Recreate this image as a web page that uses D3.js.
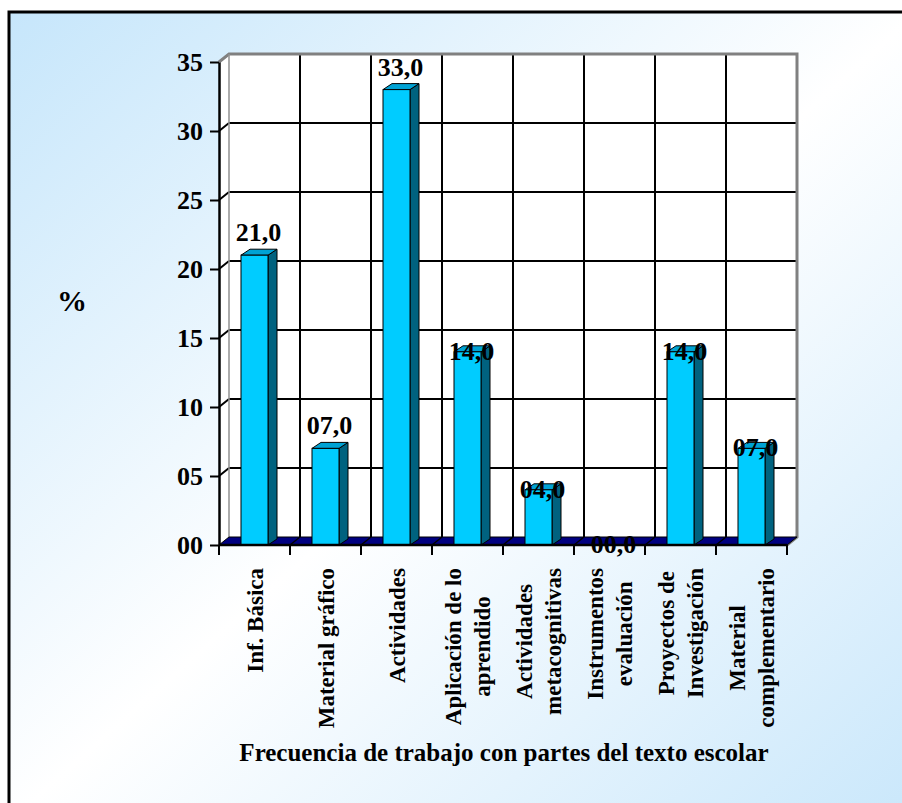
<!DOCTYPE html>
<html lang="es">
<head>
<meta charset="UTF-8">
<title>Frecuencia de trabajo con partes del texto escolar</title>
<script src="https://d3js.org/d3.v7.min.js"></script>
<style>
    body { margin: 0; background: #ffffff; }
    text { font-family: "Liberation Serif", "Times New Roman", serif; font-weight: bold; fill: #000; }
</style>
</head>
<body>
<svg id="svg" width="902" height="803"></svg>
<script>
    // data
    const categories = ["Inf. Básica", "Material gráfico", "Actividades", "Aplicación de lo aprendido",
        "Actividades metacognitivas", "Instrumentos evaluación", "Proyectos de Investigación", "Material complementario"];
    const categoryLines = [
        ["Inf. Básica"], ["Material gráfico"], ["Actividades"], ["Aplicación de lo", "aprendido"],
        ["Actividades", "metacognitivas"], ["Instrumentos", "evaluación"], ["Proyectos de", "Investigación"],
        ["Material", "complementario"]
    ];
    const values = [21, 7, 33, 14, 4, 0, 14, 7];
    // the first three value labels sit above their bar, the rest sit on the bar top
    const labelAbove = [true, true, true, false, false, false, false, false];
    const yTicks = [0, 5, 10, 15, 20, 25, 30, 35];
    const yLabel = "%";
    const xTitle = "Frecuencia de trabajo con partes del texto escolar";

    const svg = d3.select("#svg");

    // background gradient inside the frame
    const defs = svg.append("defs");
    const grad = defs.append("linearGradient")
        .attr("id", "bg")
        .attr("x1", 0).attr("y1", 0).attr("x2", 1).attr("y2", 1);
    grad.append("stop").attr("offset", "0%").attr("stop-color", "#c6e6fb");
    grad.append("stop").attr("offset", "50%").attr("stop-color", "#ffffff");
    grad.append("stop").attr("offset", "100%").attr("stop-color", "#c9e7fb");

    svg.append("rect")
        .attr("x", 9).attr("y", 12)
        .attr("width", 910).attr("height", 810)
        .attr("fill", "url(#bg)")
        .attr("stroke", "#000")
        .attr("stroke-width", 3);

    const pLeft = 219, pRight = 787, pBottom = 545, pTop = 62;
    const dx = 10, dy = -8;          // depth of the 3d walls
    const bdx = 9, bdy = -6;         // depth of the bars

    const x = d3.scaleBand().domain(categories).range([pLeft, pRight]);
    const y = d3.scaleLinear().domain([0, 35]).range([pBottom, pTop]);

    const pts = a => a.map(p => p.join(",")).join(" ");

    const chart = svg.append("g");

    // back wall and side wall
    chart.append("polygon")
        .attr("points", pts([[pLeft + dx, pBottom + dy], [pRight + dx, pBottom + dy], [pRight + dx, pTop + dy], [pLeft + dx, pTop + dy]]))
        .attr("fill", "#fff");
    chart.append("polygon")
        .attr("points", pts([[pLeft, pBottom], [pLeft + dx, pBottom + dy], [pLeft + dx, pTop + dy], [pLeft, pTop]]))
        .attr("fill", "#fff");

    // horizontal gridlines (back wall + side wall)
    const gridY = yTicks.filter(d => d > 0 && d < 35);
    chart.selectAll(".gh").data(gridY).enter().append("line")
        .attr("x1", pLeft + dx).attr("x2", pRight + dx)
        .attr("y1", d => y(d) + dy).attr("y2", d => y(d) + dy)
        .attr("stroke", "#000").attr("stroke-width", 2);
    chart.selectAll(".gs").data(gridY).enter().append("line")
        .attr("x1", pLeft).attr("x2", pLeft + dx)
        .attr("y1", d => y(d)).attr("y2", d => y(d) + dy)
        .attr("stroke", "#000").attr("stroke-width", 2);

    // vertical gridlines on the back wall
    const inner = categories.slice(1);
    chart.selectAll(".gv").data(inner).enter().append("line")
        .attr("x1", d => x(d) + dx).attr("x2", d => x(d) + dx)
        .attr("y1", y(0) + dy).attr("y2", pTop + dy)
        .attr("stroke", "#000").attr("stroke-width", 2);

    // wall edges
    chart.append("polyline")
        .attr("points", pts([[pLeft, pTop], [pLeft + dx, pTop + dy], [pRight + dx, pTop + dy], [pRight + dx, pBottom + dy], [pRight, pBottom]]))
        .attr("fill", "none").attr("stroke", "#808080").attr("stroke-width", 3);
    chart.append("line")
        .attr("x1", pLeft + dx).attr("x2", pLeft + dx)
        .attr("y1", pTop + dy).attr("y2", pBottom + dy)
        .attr("stroke", "#909090").attr("stroke-width", 1.5);

    // floor
    chart.append("polygon")
        .attr("points", pts([[pLeft, pBottom], [pRight, pBottom], [pRight + dx, pBottom + dy], [pLeft + dx, pBottom + dy]]))
        .attr("fill", "#000080")
        .attr("stroke", "#000").attr("stroke-width", 1);
    chart.selectAll(".gf").data(inner).enter().append("line")
        .attr("x1", d => x(d)).attr("x2", d => x(d) + dx)
        .attr("y1", pBottom).attr("y2", pBottom + dy)
        .attr("stroke", "#000").attr("stroke-width", 1.5);

    // bars
    const barW = 27;
    const bars = chart.selectAll(".bar").data(categories.map((c, i) => ({ c: c, v: values[i], i: i })).filter(d => d.v > 0))
        .enter().append("g");

    bars.append("polygon")
        .attr("points", d => {
            const xl = x(d.c) + x.bandwidth() / 2 - barW / 2, xr = xl + barW, yt = y(d.v);
            return pts([[xr, yt], [xr + bdx, yt + bdy], [xr + bdx, pBottom + bdy], [xr, pBottom]]);
        })
        .attr("fill", "#00627f").attr("stroke", "#000").attr("stroke-width", 1);
    bars.append("polygon")
        .attr("points", d => {
            const xl = x(d.c) + x.bandwidth() / 2 - barW / 2, xr = xl + barW, yt = y(d.v);
            return pts([[xl, yt], [xl + bdx, yt + bdy], [xr + bdx, yt + bdy], [xr, yt]]);
        })
        .attr("fill", "#00a2d4").attr("stroke", "#000").attr("stroke-width", 1);
    bars.append("rect")
        .attr("x", d => x(d.c) + x.bandwidth() / 2 - barW / 2)
        .attr("y", d => y(d.v))
        .attr("width", barW)
        .attr("height", d => pBottom - y(d.v))
        .attr("fill", "#00ccff").attr("stroke", "#000").attr("stroke-width", 1);

    // y axis
    const yAxis = svg.append("g")
        .attr("transform", `translate(${pLeft},0)`)
        .call(d3.axisLeft(y).tickValues(yTicks).tickFormat(d3.format("02d")).tickSize(9).tickSizeOuter(0).tickPadding(7));
    yAxis.select(".domain").attr("stroke", "#000").attr("stroke-width", 2.5);
    yAxis.selectAll(".tick line").attr("stroke", "#000").attr("stroke-width", 2);
    yAxis.selectAll(".tick text")
        .style("font-size", "26px")
        .attr("dy", "0.34em");

    // x axis line and ticks at the category boundaries
    const xAxis = svg.append("g");
    xAxis.append("line")
        .attr("x1", pLeft).attr("x2", pRight).attr("y1", pBottom).attr("y2", pBottom)
        .attr("stroke", "#000").attr("stroke-width", 2.5);
    xAxis.selectAll(".xt").data(categories).enter().append("line")
        .attr("x1", d => x(d) + x.bandwidth()).attr("x2", d => x(d) + x.bandwidth())
        .attr("y1", pBottom).attr("y2", pBottom + 10)
        .attr("stroke", "#000").attr("stroke-width", 2);
    xAxis.append("line")
        .attr("x1", pLeft).attr("x2", pLeft).attr("y1", pBottom).attr("y2", pBottom + 10)
        .attr("stroke", "#000").attr("stroke-width", 2);

    // category labels, rotated, anchored just under the axis
    const lineH = 29;
    const catG = svg.selectAll(".cat").data(categories).enter().append("g")
        .attr("class", "cat");
    catG.each(function (c, i) {
        const g = d3.select(this);
        const lines = categoryLines[i];
        const texts = lines.map(l => g.append("text")
            .style("font-size", "23px")
            .attr("text-anchor", "middle")
            .text(l));
        const maxLen = d3.max(texts, t => t.node().getComputedTextLength());
        const cx = x(c) + x.bandwidth() / 2;
        const cy = 568 + maxLen / 2;
        texts.forEach((t, j) => {
            const off = (j - (lines.length - 1) / 2) * lineH;
            t.attr("transform", `translate(${cx + off},${cy}) rotate(-90)`)
                .attr("dy", "0.35em");
        });
    });

    // value labels
    const fmt = v => d3.format("04.1f")(v).replace(".", ",");
    svg.selectAll(".val").data(values).enter().append("text")
        .attr("x", (d, i) => x(categories[i]) + x.bandwidth() / 2 + 4)
        .attr("y", (d, i) => labelAbove[i] ? y(d) - 14 : y(d) + 8)
        .attr("text-anchor", "middle")
        .style("font-size", "26px")
        .text(d => fmt(d));

    // axis titles
    svg.append("text")
        .attr("x", 72).attr("y", 300)
        .attr("text-anchor", "middle")
        .attr("dy", "0.35em")
        .style("font-size", "30px")
        .text(yLabel);
    svg.append("text")
        .attr("x", 504).attr("y", 752)
        .attr("text-anchor", "middle")
        .attr("dy", "0.35em")
        .style("font-size", "25px")
        .text(xTitle);
</script>
</body>
</html>
